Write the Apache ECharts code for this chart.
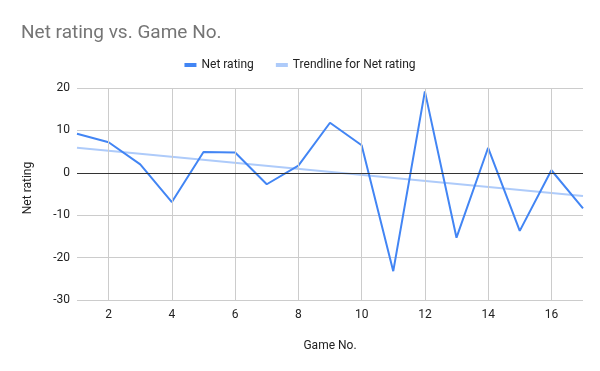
<!DOCTYPE html>
<html><head><meta charset="utf-8">
<script src="https://cdn.jsdelivr.net/npm/echarts@6/dist/echarts.min.js"></script>
<style>html,body{margin:0;padding:0;background:#fff}#c{width:600px;height:371px}</style>
</head><body><div id="c"></div>
<script>
var games = [1,2,3,4,5,6,7,8,9,10,11,12,13,14,15,16,17];
var netRating = [9.2,7.2,2.0,-6.9,4.9,4.8,-2.7,1.7,11.8,6.5,-23.2,19.2,-15.3,5.9,-13.7,0.6,-8.4];
var trendX = [1,17];
var trendY = [5.9,-5.5];
var xGridTicks = [2,4,6,8,10,12,14,16];
var yTicks = [-30,-20,-10,0,10,20];

var font = 'Roboto, Arial, sans-serif';
var chart = echarts.init(document.getElementById('c'), null, {renderer:'canvas'});
chart.setOption({
  animation:false,
  title:{text:'Net rating vs. Game No.', left:16, top:19,
    textStyle:{fontFamily:font, fontSize:19, fontWeight:'normal', color:'#757575'}},
  legend:{top:54, left:'center', itemWidth:12, itemHeight:4, itemGap:22,
    icon:'rect',
    textStyle:{fontFamily:font, fontSize:12, color:'#222'},
    data:['Net rating','Trendline for Net rating']},
  grid:{left:77, right:17, top:88, bottom:71, containLabel:false},
  xAxis:{type:'value', min:1, max:17, interval:1,
    name:'Game No.', nameLocation:'middle', nameGap:40,
    nameTextStyle:{fontFamily:font, fontSize:12, color:'#222'},
    axisLine:{show:false}, axisTick:{show:false}, splitLine:{show:false},
    axisLabel:{fontFamily:font, fontSize:12, color:'#222', margin:9,
      formatter:function(v){return xGridTicks.indexOf(v)>=0 ? String(v) : '';}}},
  yAxis:{type:'value', min:yTicks[0], max:yTicks[yTicks.length-1], interval:10,
    name:'Net rating', nameLocation:'middle', nameGap:43, nameRotate:90,
    nameTextStyle:{fontFamily:font, fontSize:12, color:'#222', padding:[0,0,0,12]},
    axisLine:{show:false}, axisTick:{show:false},
    splitLine:{lineStyle:{color:'#cccccc', width:1}},
    axisLabel:{fontFamily:font, fontSize:12, color:'#222', margin:7}},
  series:[
    {name:'grid', type:'line', data:[], silent:true,
      markLine:{silent:true, symbol:'none', label:{show:false},
        lineStyle:{color:'#cccccc', width:1, type:'solid'},
        data:xGridTicks.map(function(v){return {xAxis:v};})}},
    {name:'Trendline for Net rating', type:'line', color:'#aecbfa',
      data:trendX.map(function(x,i){return [x,trendY[i]];}),
      showSymbol:false, lineStyle:{width:2, color:'#aecbfa'}, z:3},
    {name:'Net rating', type:'line', color:'#4285f4',
      data:games.map(function(x,i){return [x,netRating[i]];}),
      showSymbol:false, lineStyle:{width:2, color:'#4285f4'}, z:4,
      markLine:{silent:true, symbol:'none', label:{show:false},
        lineStyle:{color:'#333333', width:1, type:'solid'},
        data:[{yAxis:0}]}}
  ]
});
</script></body></html>
